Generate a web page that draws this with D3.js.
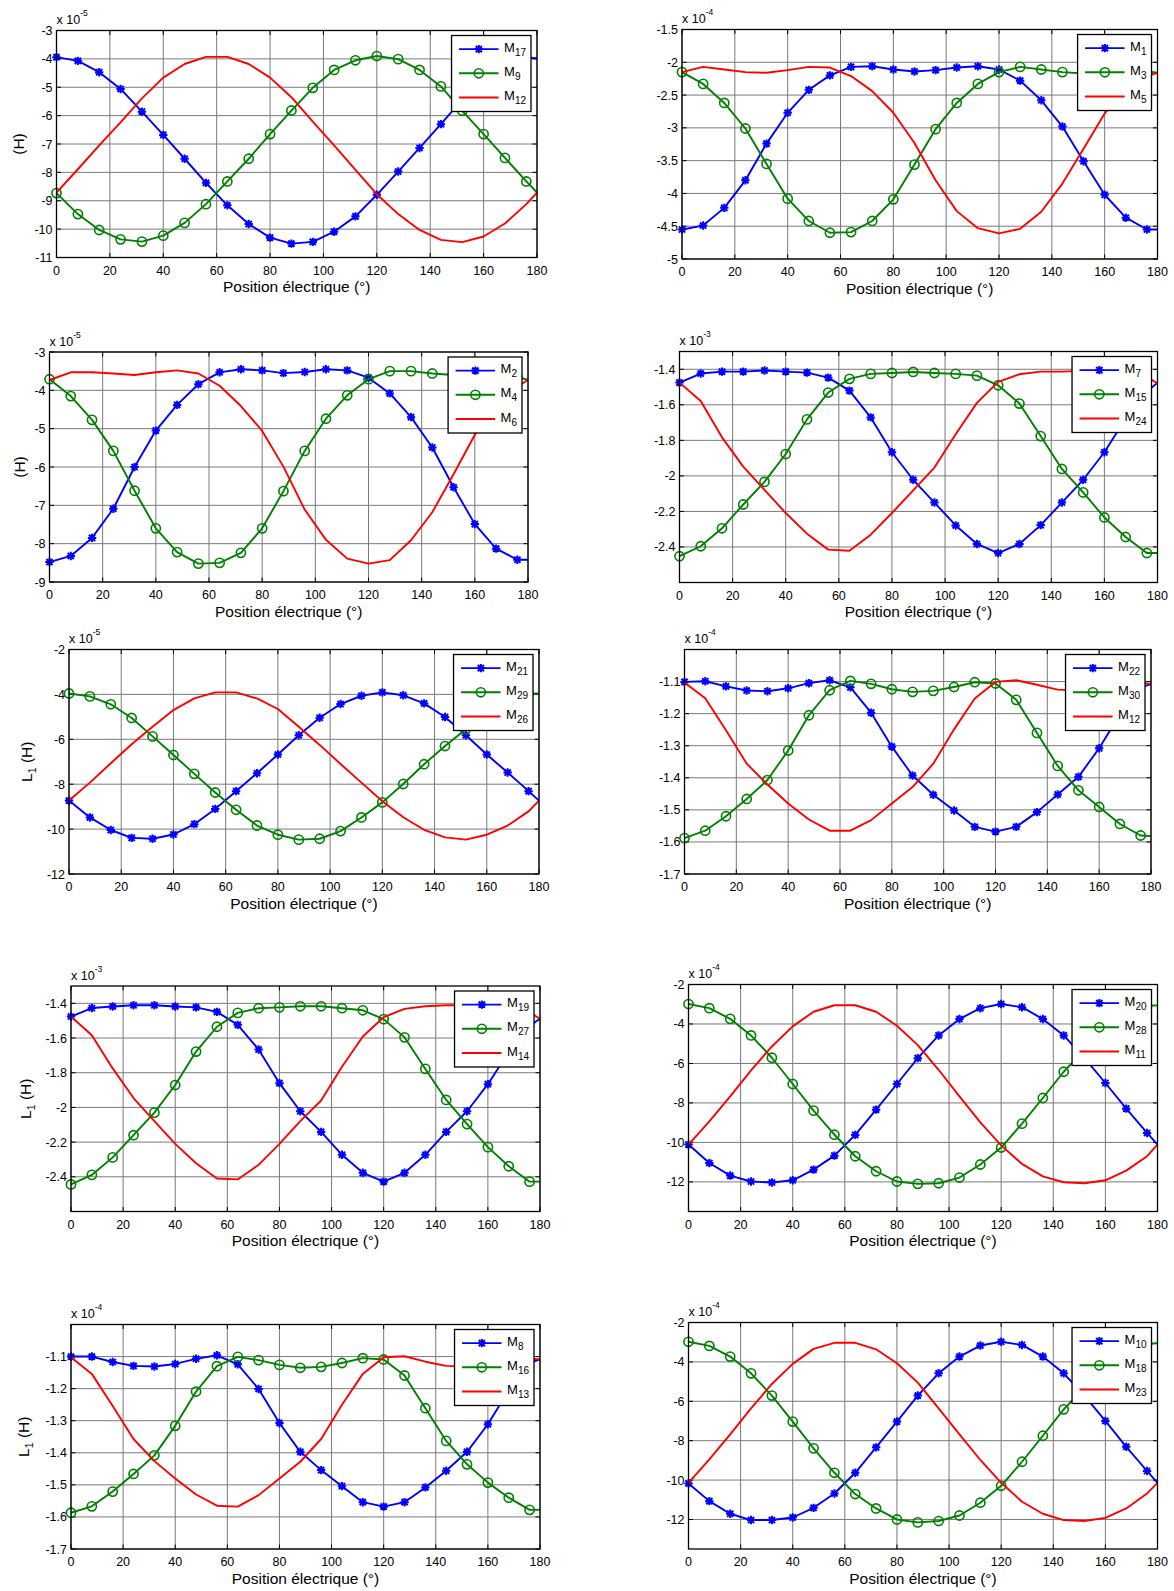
<!DOCTYPE html>
<html>
<head>
<meta charset="utf-8">
<script src="https://cdn.jsdelivr.net/npm/d3@7"></script>
<style>
  body { margin: 0; background: #fff; }
  svg { display: block; font-family: "Liberation Sans", Arial, sans-serif; }
</style>
</head>
<body>
<svg id="fig" width="1174" height="1591"></svg>
<script>
// Electrical position (degrees)
const angles = [0,8,16,24,32,40,48,56,64,72,80,88,96,104,112,120,128,136,144,152,160,168,176,180];
const xTicks = [0,20,40,60,80,100,120,140,160,180];

// Mutual inductances, values as shown on each axis (to be multiplied by the axis exponent)
const m17 = [-3.94,-4.07,-4.47,-5.06,-5.86,-6.68,-7.52,-8.37,-9.16,-9.82,-10.30,-10.51,-10.45,-10.09,-9.55,-8.79,-7.97,-7.14,-6.30,-5.44,-4.66,-4.15,-3.96,-3.98];
const m9  = [-8.73,-9.47,-10.03,-10.36,-10.44,-10.23,-9.78,-9.12,-8.32,-7.52,-6.65,-5.82,-5.02,-4.39,-4.05,-3.90,-4.01,-4.39,-4.97,-5.83,-6.65,-7.49,-8.32,-8.71];
const m12 = [-8.71,-7.89,-7.05,-6.24,-5.39,-4.66,-4.18,-3.93,-3.93,-4.18,-4.66,-5.35,-6.21,-7.05,-7.91,-8.77,-9.47,-10.03,-10.38,-10.46,-10.26,-9.80,-9.12,-8.71];

const m1 = [-4.55,-4.49,-4.22,-3.80,-3.24,-2.77,-2.42,-2.20,-2.07,-2.06,-2.11,-2.14,-2.12,-2.08,-2.06,-2.11,-2.28,-2.58,-2.98,-3.51,-4.02,-4.37,-4.55,-4.55];
const m3 = [-2.15,-2.33,-2.62,-3.01,-3.55,-4.08,-4.42,-4.60,-4.59,-4.42,-4.09,-3.56,-3.02,-2.62,-2.33,-2.15,-2.07,-2.11,-2.15,-2.17,-2.18,-2.15,-2.14,-2.16];
const m5 = [-2.15,-2.07,-2.11,-2.15,-2.16,-2.12,-2.07,-2.08,-2.21,-2.44,-2.77,-3.23,-3.80,-4.27,-4.53,-4.61,-4.54,-4.28,-3.85,-3.32,-2.78,-2.40,-2.21,-2.16];

const m2 = [-8.48,-8.32,-7.85,-7.09,-6.00,-5.05,-4.38,-3.84,-3.53,-3.45,-3.48,-3.55,-3.52,-3.45,-3.48,-3.67,-4.08,-4.70,-5.49,-6.53,-7.49,-8.13,-8.42,-8.42];
const m4 = [-3.71,-4.15,-4.77,-5.58,-6.62,-7.60,-8.22,-8.52,-8.50,-8.24,-7.60,-6.63,-5.58,-4.74,-4.13,-3.71,-3.50,-3.50,-3.56,-3.60,-3.62,-3.63,-3.65,-3.73];
const m6 = [-3.73,-3.53,-3.53,-3.56,-3.60,-3.53,-3.48,-3.56,-3.88,-4.41,-5.06,-5.99,-7.11,-7.90,-8.39,-8.52,-8.43,-7.91,-7.18,-6.19,-5.16,-4.34,-3.90,-3.73];

const m7  = [-1.475,-1.424,-1.413,-1.413,-1.407,-1.413,-1.419,-1.447,-1.520,-1.671,-1.867,-2.022,-2.150,-2.279,-2.383,-2.434,-2.383,-2.277,-2.150,-2.022,-1.867,-1.677,-1.527,-1.475];
const m15 = [-2.452,-2.396,-2.295,-2.161,-2.034,-1.877,-1.682,-1.531,-1.454,-1.426,-1.421,-1.415,-1.421,-1.426,-1.436,-1.490,-1.593,-1.776,-1.961,-2.093,-2.234,-2.344,-2.434,-2.434];
const m24 = [-1.475,-1.579,-1.783,-1.948,-2.079,-2.209,-2.325,-2.415,-2.421,-2.331,-2.209,-2.082,-1.953,-1.766,-1.589,-1.471,-1.428,-1.413,-1.413,-1.409,-1.415,-1.424,-1.443,-1.480];

const m21 = [-8.73,-9.48,-10.04,-10.39,-10.43,-10.24,-9.78,-9.10,-8.31,-7.51,-6.68,-5.82,-5.04,-4.43,-4.06,-3.91,-4.04,-4.40,-5.01,-5.82,-6.68,-7.48,-8.31,-8.73];
const m29 = [-3.96,-4.09,-4.44,-5.05,-5.87,-6.70,-7.54,-8.37,-9.14,-9.84,-10.25,-10.47,-10.43,-10.09,-9.48,-8.81,-7.99,-7.11,-6.30,-5.55,-4.70,-4.15,-3.97,-3.96];
const m26 = [-8.73,-7.93,-7.07,-6.22,-5.44,-4.70,-4.18,-3.91,-3.91,-4.18,-4.65,-5.44,-6.25,-7.10,-7.93,-8.76,-9.47,-10.03,-10.37,-10.47,-10.25,-9.84,-9.21,-8.73];

const m22  = [-1.101,-1.099,-1.115,-1.128,-1.130,-1.121,-1.105,-1.096,-1.118,-1.197,-1.303,-1.393,-1.453,-1.502,-1.553,-1.568,-1.553,-1.507,-1.452,-1.397,-1.308,-1.202,-1.118,-1.108];
const m30  = [-1.588,-1.565,-1.520,-1.466,-1.407,-1.315,-1.205,-1.127,-1.098,-1.107,-1.124,-1.132,-1.129,-1.117,-1.102,-1.106,-1.157,-1.260,-1.363,-1.439,-1.491,-1.544,-1.580,-1.582];
const m12b = [-1.103,-1.152,-1.252,-1.356,-1.421,-1.480,-1.530,-1.565,-1.565,-1.532,-1.480,-1.429,-1.356,-1.249,-1.153,-1.101,-1.096,-1.110,-1.125,-1.127,-1.122,-1.111,-1.103,-1.108];

const m19 = [-1.476,-1.427,-1.418,-1.411,-1.411,-1.418,-1.423,-1.449,-1.524,-1.666,-1.860,-2.022,-2.141,-2.273,-2.377,-2.428,-2.377,-2.273,-2.141,-2.022,-1.866,-1.680,-1.530,-1.489];
const m27 = [-2.444,-2.389,-2.288,-2.160,-2.030,-1.871,-1.678,-1.535,-1.455,-1.428,-1.423,-1.417,-1.417,-1.428,-1.440,-1.491,-1.596,-1.778,-1.957,-2.096,-2.229,-2.339,-2.428,-2.428];
const m14 = [-1.476,-1.584,-1.775,-1.946,-2.079,-2.210,-2.322,-2.410,-2.415,-2.331,-2.210,-2.079,-1.960,-1.766,-1.591,-1.480,-1.432,-1.417,-1.411,-1.411,-1.415,-1.426,-1.451,-1.489];

const m20 = [-10.11,-11.04,-11.68,-11.98,-12.03,-11.92,-11.38,-10.67,-9.62,-8.34,-7.04,-5.73,-4.58,-3.75,-3.20,-2.99,-3.15,-3.75,-4.58,-5.73,-6.99,-8.29,-9.52,-10.11];
const m28 = [-2.99,-3.20,-3.74,-4.58,-5.71,-7.04,-8.39,-9.61,-10.70,-11.46,-11.98,-12.10,-12.07,-11.78,-11.12,-10.26,-9.05,-7.75,-6.42,-5.31,-4.12,-3.37,-3.08,-3.06];
const m11 = [-10.11,-8.93,-7.67,-6.35,-5.14,-4.12,-3.38,-3.05,-3.05,-3.38,-4.09,-5.07,-6.32,-7.67,-8.98,-10.15,-11.09,-11.72,-12.02,-12.07,-11.92,-11.43,-10.70,-10.11];

const m8  = [-1.100,-1.100,-1.117,-1.129,-1.131,-1.123,-1.107,-1.096,-1.124,-1.201,-1.307,-1.397,-1.454,-1.504,-1.554,-1.568,-1.554,-1.508,-1.456,-1.397,-1.311,-1.205,-1.120,-1.109];
const m16 = [-1.587,-1.567,-1.521,-1.466,-1.408,-1.316,-1.209,-1.130,-1.101,-1.111,-1.126,-1.135,-1.132,-1.120,-1.105,-1.109,-1.159,-1.261,-1.363,-1.436,-1.493,-1.540,-1.578,-1.578];
const m13 = [-1.102,-1.154,-1.254,-1.357,-1.426,-1.480,-1.530,-1.565,-1.568,-1.532,-1.480,-1.428,-1.357,-1.250,-1.154,-1.102,-1.099,-1.116,-1.129,-1.131,-1.126,-1.116,-1.106,-1.109];

const m10 = [-10.17,-11.07,-11.71,-12.03,-12.03,-11.90,-11.41,-10.68,-9.63,-8.34,-7.03,-5.71,-4.58,-3.73,-3.17,-2.98,-3.14,-3.73,-4.58,-5.73,-7.00,-8.31,-9.54,-10.14];
const m18 = [-2.98,-3.19,-3.73,-4.58,-5.71,-7.03,-8.39,-9.63,-10.71,-11.44,-12.00,-12.15,-12.08,-11.80,-11.15,-10.29,-9.07,-7.75,-6.41,-5.30,-4.12,-3.37,-3.08,-3.05];
const m23 = [-10.14,-8.95,-7.68,-6.36,-5.12,-4.10,-3.34,-3.03,-3.03,-3.36,-4.07,-5.05,-6.36,-7.68,-8.98,-10.14,-11.10,-11.71,-12.03,-12.08,-11.92,-11.44,-10.68,-10.14];

// Y tick values per axis
const yTicksA = [-11,-10,-9,-8,-7,-6,-5,-4,-3];
const yTicksB = [-5,-4.5,-4,-3.5,-3,-2.5,-2,-1.5];
const yTicksC = [-9,-8,-7,-6,-5,-4,-3];
const yTicksD = [-2.4,-2.2,-2,-1.8,-1.6,-1.4];
const yTicksE = [-12,-10,-8,-6,-4,-2];
const yTicksF = [-1.7,-1.6,-1.5,-1.4,-1.3,-1.2,-1.1];

// Panel layout (pixel box: left, right, top, bottom)
const panels = [
  { box:[56.5,537,30.5,257.5],  dom:[-11,-3],    ticks:yTicksA, exp:"-5", ylab:"(H)", ylabX:18,
    series:[["17",m17],["9",m9],["12",m12]] },
  { box:[682,1157.5,29.5,259],  dom:[-5,-1.5],   ticks:yTicksB, exp:"-4", ylab:null,
    series:[["1",m1],["3",m3],["5",m5]] },
  { box:[49.5,528,352,582],     dom:[-9,-3],     ticks:yTicksC, exp:"-5", ylab:"(H)", ylabX:19.5,
    series:[["2",m2],["4",m4],["6",m6]] },
  { box:[679.5,1157.5,351.5,582.5], dom:[-2.6,-1.3], ticks:yTicksD, exp:"-3", ylab:null,
    series:[["7",m7],["15",m15],["24",m24]] },
  { box:[69,539,649.5,874],     dom:[-12,-2],    ticks:yTicksE, exp:"-5", ylab:"L1", ylabX:26.5,
    series:[["21",m21],["29",m29],["26",m26]] },
  { box:[684.5,1151,649.5,874], dom:[-1.7,-1.0], ticks:yTicksF, exp:"-4", ylab:null,
    series:[["22",m22],["30",m30],["12",m12b]] },
  { box:[71,540,986,1211.5],    dom:[-2.6,-1.3], ticks:yTicksD, exp:"-3", ylab:"L1", ylabX:25,
    series:[["19",m19],["27",m27],["14",m14]] },
  { box:[688.5,1157.5,984.5,1211.5], dom:[-13.5,-2], ticks:yTicksE, exp:"-4", ylab:null,
    series:[["20",m20],["28",m28],["11",m11]] },
  { box:[71,540,1324.5,1549],   dom:[-1.7,-1.0], ticks:yTicksF, exp:"-4", ylab:"L1", ylabX:23,
    series:[["8",m8],["16",m16],["13",m13]] },
  { box:[688.5,1157.5,1322.5,1549], dom:[-13.5,-2], ticks:yTicksE, exp:"-4", ylab:null,
    series:[["10",m10],["18",m18],["23",m23]] }
];

const styles = [
  { color:"#0000ff", marker:"star" },
  { color:"#008000", marker:"circle" },
  { color:"#ff0000", marker:null }
];

const svg = d3.select("#fig");
const fmt = v => String(+v.toFixed(3));

function drawMarker(g, type, x, y, color) {
  if (type === "star") {
    const s = 4.2, d = 3.1;
    g.append("path")
      .attr("d", `M${x-s},${y}H${x+s}M${x},${y-s}V${y+s}M${x-d},${y-d}L${x+d},${y+d}M${x-d},${y+d}L${x+d},${y-d}`)
      .attr("stroke", color).attr("stroke-width", 2).attr("fill", "none");
  } else if (type === "circle") {
    g.append("circle").attr("cx", x).attr("cy", y).attr("r", 4.6)
      .attr("stroke", color).attr("stroke-width", 1.6).attr("fill", "none");
  }
}

panels.forEach(p => {
  const [L, R, T, B] = p.box;
  const x = d3.scaleLinear().domain([0, 180]).range([L, R]);
  const y = d3.scaleLinear().domain(p.dom).range([B, T]);
  const g = svg.append("g");

  // grid
  g.append("g").selectAll("line").data(xTicks).join("line")
    .attr("x1", d => x(d)).attr("x2", d => x(d)).attr("y1", T).attr("y2", B)
    .attr("stroke", "#7a7a7a").attr("stroke-width", 1);
  g.append("g").selectAll("line").data(p.ticks).join("line")
    .attr("x1", L).attr("x2", R).attr("y1", d => y(d)).attr("y2", d => y(d))
    .attr("stroke", "#7a7a7a").attr("stroke-width", 1);

  // inward tick marks on all four sides
  const tk = 4.5;
  const tg = g.append("g").attr("stroke", "#000").attr("stroke-width", 1);
  xTicks.forEach(v => {
    tg.append("line").attr("x1", x(v)).attr("x2", x(v)).attr("y1", B).attr("y2", B - tk);
    tg.append("line").attr("x1", x(v)).attr("x2", x(v)).attr("y1", T).attr("y2", T + tk);
  });
  p.ticks.forEach(v => {
    tg.append("line").attr("x1", L).attr("x2", L + tk).attr("y1", y(v)).attr("y2", y(v));
    tg.append("line").attr("x1", R).attr("x2", R - tk).attr("y1", y(v)).attr("y2", y(v));
  });

  // tick labels
  g.append("g").selectAll("text").data(xTicks).join("text")
    .attr("x", d => x(d)).attr("y", B + 17).attr("text-anchor", "middle")
    .attr("font-size", 12.5).text(d => d);
  g.append("g").selectAll("text").data(p.ticks).join("text")
    .attr("x", L - 4).attr("y", d => y(d)).attr("dy", "0.36em").attr("text-anchor", "end")
    .attr("font-size", 12.5).text(d => fmt(d));

  // exponent
  const ex = g.append("text").attr("x", L).attr("y", T - 6.5).attr("font-size", 12.5);
  ex.append("tspan").text("x 10");
  ex.append("tspan").attr("font-size", 8.5).attr("dy", -8).text(p.exp);

  // axis labels
  g.append("text").attr("x", (L + R) / 2).attr("y", B + 34.5).attr("text-anchor", "middle")
    .attr("font-size", 15.5).text("Position électrique (°)");
  if (p.ylab) {
    const cy = (T + B) / 2;
    const yl = g.append("text").attr("transform", `translate(${p.ylabX + 5.5},${cy}) rotate(-90)`)
      .attr("text-anchor", "middle").attr("font-size", 15.5);
    if (p.ylab === "L1") {
      yl.append("tspan").text("L");
      yl.append("tspan").attr("font-size", 10.5).attr("dy", 4).text("1");
      yl.append("tspan").attr("dy", -4).text(" (H)");
    } else {
      yl.text(p.ylab);
    }
  }

  // series
  const line = d3.line().x((d, i) => x(angles[i])).y(d => y(d));
  p.series.forEach(([name, vals], k) => {
    const st = styles[k];
    const sg = g.append("g");
    sg.append("path").datum(vals).attr("d", line).attr("fill", "none")
      .attr("stroke", st.color).attr("stroke-width", 1.9).attr("stroke-linejoin", "round");
    if (st.marker) {
      vals.forEach((v, i) => {
        if (angles[i] % 8 === 0) drawMarker(sg, st.marker, x(angles[i]), y(v), st.color);
      });
    }
  });

  // axes box
  g.append("rect").attr("x", L).attr("y", T).attr("width", R - L).attr("height", B - T)
    .attr("fill", "none").attr("stroke", "#000").attr("stroke-width", 1.3);

  // legend
  const lg = g.append("g");
  const box = lg.append("rect").attr("fill", "#fff").attr("stroke", "#000").attr("stroke-width", 1.3);
  const rows = [13.6, 37.8, 62];
  let maxW = 0;
  const texts = [];
  p.series.forEach(([name], k) => {
    const t = lg.append("text").attr("font-size", 13);
    t.append("tspan").text("M");
    t.append("tspan").attr("font-size", 10).attr("dy", 4).text(name);
    texts.push(t);
    maxW = Math.max(maxW, t.node().getComputedTextLength());
  });
  const W = 52.5 + maxW + 5, H = 76;
  const lx = R - 6 - W, ly = T + 5;
  box.attr("x", lx).attr("y", ly).attr("width", W).attr("height", H);
  p.series.forEach(([name], k) => {
    const st = styles[k];
    const ry = ly + rows[k];
    lg.append("line").attr("x1", lx + 7.5).attr("x2", lx + 47).attr("y1", ry).attr("y2", ry)
      .attr("stroke", st.color).attr("stroke-width", 1.9);
    if (st.marker) drawMarker(lg, st.marker, lx + 27.3, ry, st.color);
    texts[k].attr("x", lx + 52.5).attr("y", ry + 2.5);
  });
});
</script>
</body>
</html>
